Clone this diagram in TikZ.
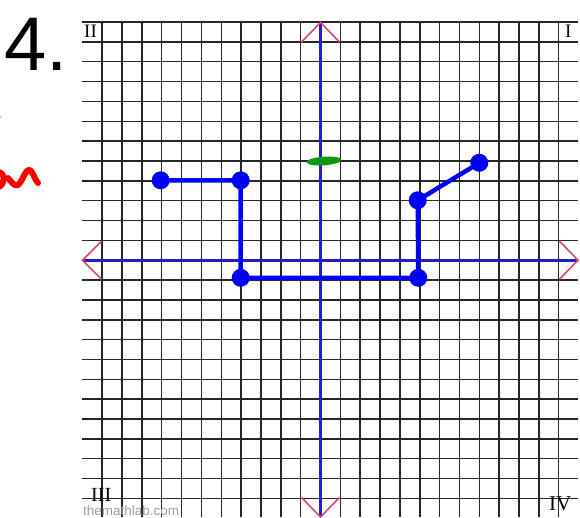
\documentclass[tikz,border=0pt]{standalone}
\usepackage{fontspec}
\setmainfont{Liberation Serif}
\newfontfamily\arialf{Liberation Sans}
\definecolor{gridc}{HTML}{262626}
\definecolor{axisblue}{HTML}{1E1ECF}
\definecolor{ptblue}{HTML}{0000F8}
\definecolor{chev}{HTML}{D8486C}
\definecolor{mkgreen}{HTML}{0B990B}
\definecolor{scrib}{HTML}{FF0000}
\begin{document}
\begin{tikzpicture}[x=1pt,y=-1pt,
  gridline/.style={draw=gridc,line width=1.5pt},
  axisline/.style={draw=axisblue,line width=3pt},
  chevron/.style={draw=chev,line width=1.6pt,line join=miter},
  ptdot/.style={circle,fill=ptblue,inner sep=0pt,minimum size=18pt},
  seg/.style={draw=ptblue,line width=4.5pt},
  quad/.style={inner sep=0pt,anchor=base west,font=\fontsize{19}{19}\selectfont}]
\useasboundingbox (0,0) rectangle (580,517);
% grid
\foreach \k in {-11,...,12}
  \draw[gridline] ({320.5+\k*19.85},22) -- ({320.5+\k*19.85},517);
\foreach \j in {-12,...,12}
  \draw[gridline] (82,{260.2-\j*19.85}) -- (578,{260.2-\j*19.85});
% axes
\coordinate (yt) at (320.5,22.5);
\coordinate (yb) at (320.5,517);
\coordinate (xl) at (82.5,260.2);
\coordinate (xr) at (578,260.2);
\draw[axisline] (yt) -- (yb);
\draw[axisline] (xl) -- (xr);
\draw[chevron] ([shift={(-19,19.5)}]yt) -- (yt) -- ([shift={(19,19.5)}]yt);
\draw[chevron] ([shift={(-19,-19.5)}]yb) -- (yb) -- ([shift={(19,-19.5)}]yb);
\draw[chevron] ([shift={(19,-19)}]xl) -- (xl) -- ([shift={(19,19)}]xl);
\draw[chevron] ([shift={(-18.5,-19)}]xr) -- (xr) -- ([shift={(-18.5,19)}]xr);
% labels
\node[inner sep=0pt,anchor=base west,font=\arialf\fontsize{76}{76}\selectfont] (num) at (4,70) {4.};
\node[quad] (q2) at (84,37) {II};
\node[quad] (q1) at (565,37) {I};
\node[quad,font=\fontsize{20}{20}\selectfont] (q3) at (91,501) {III};
\node[quad,font=\fontsize{21}{21}\selectfont] (q4) at (549,510.5) {IV};
\node[inner sep=0pt,anchor=base west,text=black!38,font=\arialf\fontsize{13.5}{14}\selectfont] (wm) at (83,515) {themathlab.com};
% blue path
\node[ptdot] (a) at (160.7,180.3) {};
\node[ptdot] (b) at (240.7,180.3) {};
\node[ptdot] (c) at (240.7,277.8) {};
\node[ptdot] (d) at (418.3,277.8) {};
\node[ptdot] (e) at (417.7,200.3) {};
\node[ptdot] (f) at (479.3,162.8) {};
\draw[seg] (a.center) -- (b.center) -- (c.center) -- (d.center) -- (e.center) -- (f.center);
% green mark
\fill[mkgreen,rotate around={4:(324,161)}] (324,161) ellipse [x radius=17.5,y radius=4.3];
% red scribble
\draw[scrib,line width=6pt,line cap=round,line join=round]
  (-2,172) .. controls (6,173) and (5,184) .. (-1,187);
\draw[scrib,line width=6pt,line cap=round,line join=round]
  (8,178) .. controls (11,181) and (14,187) .. (18,185)
  .. controls (23,181) and (25,169) .. (30,170)
  .. controls (33,172) and (35,180) .. (38,183);
\fill[red!30] (0.5,117) circle (1.3);
\end{tikzpicture}
\end{document}
